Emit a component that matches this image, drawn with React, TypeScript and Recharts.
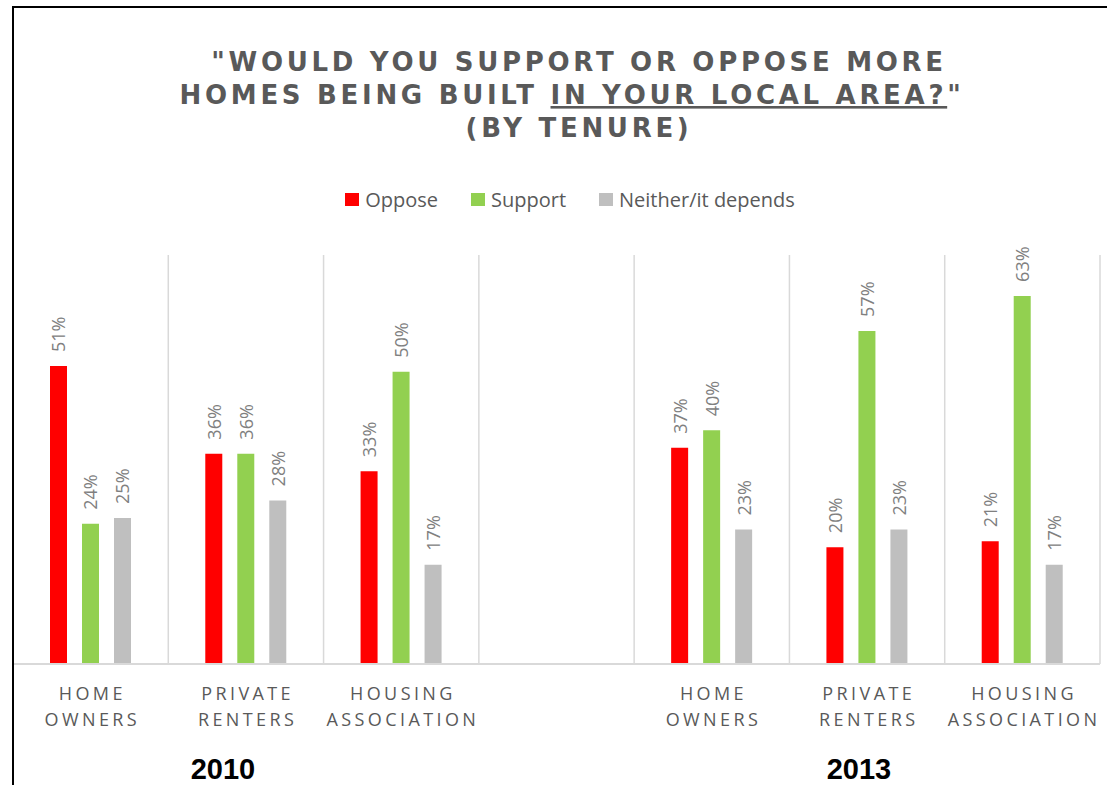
import React from "react";
import { BarChart, Bar, XAxis, YAxis, ReferenceLine, LabelList, Legend } from "recharts";

const categories = [
  "2010 Home owners",
  "2010 Private renters",
  "2010 Housing association",
  "gap",
  "2013 Home owners",
  "2013 Private renters",
  "2013 Housing association",
];
const tickLabels: string[][] = [
  ["HOME", "OWNERS"],
  ["PRIVATE", "RENTERS"],
  ["HOUSING", "ASSOCIATION"],
  ["", ""],
  ["HOME", "OWNERS"],
  ["PRIVATE", "RENTERS"],
  ["HOUSING", "ASSOCIATION"],
];
const oppose = [51, 36, 33, null, 37, 20, 21];
const support = [24, 36, 50, null, 40, 57, 63];
const neither = [25, 28, 17, null, 23, 23, 17];
const years = [
  { label: "2010", center: 223 },
  { label: "2013", center: 859 },
];

const seriesNames = ["Oppose", "Support", "Neither/it depends"];
const seriesColors = ["#ff0000", "#92d050", "#bfbfbf"];

const data = categories.map((c, i) => ({
  cat: c,
  oppose: oppose[i],
  support: support[i],
  neither: neither[i],
}));

const BarLabel = (props: any) => {
  const { x, y, width, value } = props;
  if (value === null || value === undefined) return null;
  const cx = x + width / 2;
  const ty = y - 14;
  return (
    <text
      x={cx}
      y={ty}
      transform={`rotate(-90 ${cx} ${ty})`}
      textAnchor="start"
      dominantBaseline="central"
      fill="#808080"
      fontSize={18}
      fontFamily="'Open Sans', sans-serif"
    >
      {value}%
    </text>
  );
};

const CatTick = (props: any) => {
  const { x, y, index } = props;
  const lines = tickLabels[index] || ["", ""];
  return (
    <g>
      {lines.map((l, i) => (
        <text
          key={i}
          x={x + 1.7}
          y={y + 36 + i * 26}
          textAnchor="middle"
          fill="#595959"
          fontSize={18}
          letterSpacing={3.4}
          fontFamily="'Open Sans', sans-serif"
        >
          {l}
        </text>
      ))}
    </g>
  );
};

const LegendContent = () => (
  <div
    style={{
      display: "flex",
      justifyContent: "center",
      alignItems: "center",
      gap: 33,
      fontFamily: "'Open Sans', sans-serif",
      fontSize: 20,
      color: "#595959",
    }}
  >
    {seriesNames.map((n, i) => (
      <div key={n} style={{ display: "flex", alignItems: "center" }}>
        <span
          style={{
            display: "inline-block",
            width: 14,
            height: 13,
            background: seriesColors[i],
            marginRight: 6,
          }}
        />
        <span>{n}</span>
      </div>
    ))}
  </div>
);

export default function App() {
  return (
    <div
      style={{
        position: "absolute",
        left: 0,
        top: 0,
        width: 1107,
        height: 785,
        background: "#fff",
        overflow: "hidden",
      }}
    >
      <div style={{ position: "absolute", left: 0, top: 0 }}>
        <BarChart
          width={1107}
          height={785}
          data={data}
          margin={{ top: 255, left: 13, right: 7, bottom: 21 }}
          barSize={17}
          barGap={15}
        >
          <XAxis
            dataKey="cat"
            height={100}
            tickLine={false}
            tickSize={0}
            tickMargin={0}
            axisLine={{ stroke: "#d9d9d9", strokeWidth: 2 }}
            tick={<CatTick />}
            interval={0}
          />
          <YAxis hide domain={[0, 70]} />
          {categories.map((c) => (
            <ReferenceLine
              key={c}
              x={c}
              position="start"
              stroke="#d9d9d9"
              strokeWidth={1.5}
            />
          ))}
          <ReferenceLine
            x={categories[categories.length - 1]}
            position="end"
            stroke="#d9d9d9"
            strokeWidth={1.5}
          />
          <Legend
            layout="horizontal"
            verticalAlign="middle"
            align="center"
            wrapperStyle={{ top: 186, left: 0, width: 1140 }}
            content={<LegendContent />}
          />
          <Bar dataKey="oppose" name={seriesNames[0]} fill={seriesColors[0]} isAnimationActive={false}>
            <LabelList dataKey="oppose" content={<BarLabel />} />
          </Bar>
          <Bar dataKey="support" name={seriesNames[1]} fill={seriesColors[1]} isAnimationActive={false}>
            <LabelList dataKey="support" content={<BarLabel />} />
          </Bar>
          <Bar dataKey="neither" name={seriesNames[2]} fill={seriesColors[2]} isAnimationActive={false}>
            <LabelList dataKey="neither" content={<BarLabel />} />
          </Bar>
        </BarChart>
      </div>
      <svg
        width={1107}
        height={785}
        style={{ position: "absolute", left: 0, top: 0, pointerEvents: "none" }}
      >
        <g
          fontFamily="'DejaVu Sans', Verdana, sans-serif"
          fontWeight="bold"
          fontSize={26}
          fill="#595959"
          letterSpacing={3.7}
          textAnchor="middle"
        >
          <text x={579} y={71}>"WOULD YOU SUPPORT OR OPPOSE MORE</text>
          <text x={572} y={104}>
            <tspan>HOMES BEING BUILT </tspan>
            <tspan style={{ textDecoration: "underline" }}>IN YOUR LOCAL AREA?</tspan>
            <tspan>"</tspan>
          </text>
          <text x={579} y={137}>(BY TENURE)</text>
        </g>
        {years.map((yr) => (
          <text
            key={yr.label}
            x={yr.center}
            y={779}
            textAnchor="middle"
            fontFamily="'Liberation Sans', Arial, sans-serif"
            fontWeight="bold"
            fontSize={29}
            fill="#000"
          >
            {yr.label}
          </text>
        ))}
        <line x1={13} y1={7} x2={1107} y2={7} stroke="#000" strokeWidth={2} />
        <line x1={13} y1={6} x2={13} y2={785} stroke="#000" strokeWidth={2} />
      </svg>
    </div>
  );
}
